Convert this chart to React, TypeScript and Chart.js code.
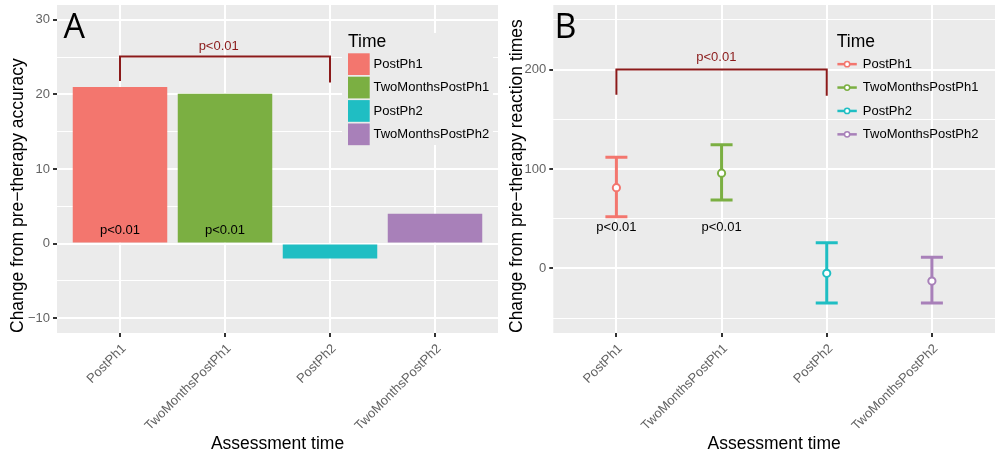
import React, { useEffect, useRef } from "react";
import { Chart, registerables } from "chart.js";

Chart.register(...registerables);

const FONT = "'Liberation Sans', Arial, Helvetica, sans-serif";
const LETTER_FONT = "'Open Sans', 'DejaVu Sans', sans-serif";

// ---------- shared ----------
const categories = ["PostPh1", "TwoMonthsPostPh1", "PostPh2", "TwoMonthsPostPh2"];
const timeColors = ["#F3766E", "#7BAF42", "#1FBEC3", "#A880B9"];
const pLabel = "p<0.01";
const legendTitle = "Time";
const xTitle = "Assessment time";

// ---------- panel A : accuracy ----------
const accuracyChange = [21.0, 20.1, -2.0, 4.0];
const accMajorTicks = [-10, 0, 10, 20, 30];
const accMinorTicks = [-5, 5, 15, 25];
const accLimits = [-12, 32];
const accBracketX = [1, 1, 3, 3];
const accBracketY = [21.8, 25.1, 25.1, 21.6];
const accBracketLabelPos = [1.94, 26.4];
const accBarLabelX = [1, 2];
const accBarLabelY = [1.8, 1.8];
const accYTitle = "Change from pre\u2212therapy accuracy";

// ---------- panel B : reaction times ----------
const rtMean = [81.2, 95.8, -5.0, -12.8];
const rtLower = [52.0, 68.9, -34.7, -34.7];
const rtUpper = [111.9, 124.3, 25.8, 11.1];
const rtMajorTicks = [0, 100, 200];
const rtMinorTicks = [-50, 50, 150, 250];
const rtLimits = [-65, 265];
const rtBracketX = [1, 1, 3, 3];
const rtBracketY = [174.6, 200, 200, 173.6];
const rtBracketLabelPos = [1.95, 212.3];
const rtPointLabelX = [1, 2];
const rtPointLabelY = [41.4, 41.4];
const rtYTitle = "Change from pre\u2212therapy reaction times";

const BRACKET = "#8B1A1A";
const PANEL = "#EBEBEB";
const TICK_TEXT = "#636363";
const TICK_MARK = "#333333";

const fmt = (v: number) => (v < 0 ? "\u2212" + Math.abs(v) : String(v));

function makeScales(cfg: {
  limits: number[];
  major: number[];
  minor: number[];
  yTitle: string;
  yWidth: number;
  yTitlePad: number;
}) {
  const all = [...cfg.major, ...cfg.minor].sort((a, b) => a - b);
  const isMajor = (v: number) => cfg.major.includes(v);
  return {
    x: {
      type: "linear",
      min: 0.4,
      max: 4.6,
      offset: false,
      afterBuildTicks: (s: any) => {
        s.ticks = categories.map((_, i) => ({ value: i + 1 }));
      },
      afterFit: (s: any) => {
        s.height = 124;
        s.paddingLeft = 0;
        s.paddingRight = 0;
      },
      ticks: {
        autoSkip: false,
        minRotation: 45,
        maxRotation: 45,
        color: TICK_TEXT,
        font: { size: 13, family: FONT },
        padding: 4,
        labelOffset: 4,
        callback: (v: any) => categories[Math.round(Number(v)) - 1] ?? "",
      },
      grid: {
        offset: false,
        color: "#FFFFFF",
        lineWidth: 2,
        tickColor: TICK_MARK,
        tickLength: 4,
      },
      border: { display: false },
      title: {
        display: true,
        text: xTitle,
        color: "#000000",
        font: { size: 17.5, family: FONT },
        padding: { top: 0, bottom: 2.5 },
      },
    },
    y: {
      type: "linear",
      min: cfg.limits[0],
      max: cfg.limits[1],
      afterBuildTicks: (s: any) => {
        s.ticks = all.map((v) => ({ value: v }));
      },
      afterFit: (s: any) => {
        s.width = cfg.yWidth;
        s.paddingTop = 0;
        s.paddingBottom = 0;
      },
      ticks: {
        autoSkip: false,
        color: TICK_TEXT,
        font: { size: 13, family: FONT },
        padding: 3,
        callback: (v: any) => (isMajor(Number(v)) ? fmt(Number(v)) : ""),
      },
      grid: {
        color: "#FFFFFF",
        lineWidth: (ctx: any) => (ctx.tick && isMajor(ctx.tick.value) ? 2 : 1),
        tickColor: (ctx: any) =>
          ctx.tick && isMajor(ctx.tick.value) ? TICK_MARK : "rgba(0,0,0,0)",
        tickLength: 4,
      },
      border: { display: false },
      title: {
        display: true,
        text: cfg.yTitle,
        align: "start",
        color: "#000000",
        font: { size: 17.5, family: FONT },
        padding: { top: cfg.yTitlePad, bottom: 0 },
      },
    },
  };
}

const panelBg = {
  id: "panelBg",
  beforeDraw(chart: any) {
    const { ctx, chartArea: a } = chart;
    ctx.save();
    ctx.fillStyle = PANEL;
    ctx.fillRect(a.left, a.top, a.right - a.left, a.bottom - a.top);
    ctx.restore();
  },
};

function annotations(labelX: number[], labelY: number[], bracketPos: number[]) {
  return {
    id: "pAnnotations",
    afterDatasetsDraw(chart: any) {
      const { ctx } = chart;
      const xs = chart.scales.x;
      const ys = chart.scales.y;
      ctx.save();
      ctx.font = `13px ${FONT}`;
      ctx.textAlign = "center";
      ctx.textBaseline = "middle";
      ctx.fillStyle = "#000000";
      labelX.forEach((x, i) => {
        ctx.fillText(pLabel, xs.getPixelForValue(x), ys.getPixelForValue(labelY[i]));
      });
      ctx.fillStyle = BRACKET;
      ctx.fillText(pLabel, xs.getPixelForValue(bracketPos[0]), ys.getPixelForValue(bracketPos[1]));
      ctx.restore();
    },
  };
}

function legendPlugin(kind: "fill" | "line", left: number, letter: string, letterX: number) {
  return {
    id: "customLegend",
    afterDraw(chart: any) {
      const { ctx } = chart;
      ctx.save();
      const top = 53.3;
      const pitch = 23.4;
      const key = 21.7;
      if (kind === "fill") {
        ctx.fillStyle = PANEL;
        ctx.fillRect(left - 6, 33, 151, 112);
      }
      ctx.fillStyle = "#000000";
      ctx.font = `17.5px ${FONT}`;
      ctx.textAlign = "left";
      ctx.textBaseline = "alphabetic";
      ctx.fillText(legendTitle, left, 47);
      ctx.font = `13px ${FONT}`;
      ctx.textBaseline = "middle";
      categories.forEach((c, i) => {
        const y0 = top + i * pitch;
        const cy = y0 + key / 2;
        if (kind === "fill") {
          ctx.fillStyle = timeColors[i];
          ctx.fillRect(left, y0, key, key);
        } else {
          ctx.strokeStyle = timeColors[i];
          ctx.lineWidth = 2.5;
          ctx.beginPath();
          ctx.moveTo(left + 0.6, cy);
          ctx.lineTo(left + 20, cy);
          ctx.stroke();
          ctx.fillStyle = "#FFFFFF";
          ctx.lineWidth = 1.5;
          ctx.beginPath();
          ctx.arc(left + 10.3, cy, 2.6, 0, Math.PI * 2);
          ctx.fill();
          ctx.stroke();
        }
        ctx.fillStyle = "#000000";
        ctx.fillText(c, left + (kind === "fill" ? 25.5 : 26), cy);
      });
      ctx.font = `34px ${LETTER_FONT}`;
      ctx.textBaseline = "alphabetic";
      ctx.fillText(letter, letterX, 37.5);
      ctx.restore();
    },
  };
}

function baseOptions(rightPad: number, scales: any) {
  return {
    responsive: false,
    animation: false,
    events: [],
    layout: { autoPadding: false, padding: { top: 5, right: rightPad, left: 0, bottom: 0 } },
    plugins: { legend: { display: false }, tooltip: { enabled: false } },
    scales,
  };
}

function buildAccuracy(): any {
  return {
    type: "bar",
    data: {
      datasets: [
        {
          type: "line",
          data: accBracketX.map((x, i) => ({ x, y: accBracketY[i] })),
          borderColor: BRACKET,
          borderWidth: 2,
          pointRadius: 0,
          fill: false,
          tension: 0,
          order: 0,
        },
        {
          type: "bar",
          data: accuracyChange.map((y, i) => ({ x: i + 1, y })),
          backgroundColor: timeColors,
          borderWidth: 0,
          categoryPercentage: 1,
          barPercentage: 0.9,
          grouped: false,
          order: 1,
        },
      ],
    },
    options: baseOptions(
      2,
      makeScales({
        limits: accLimits,
        major: accMajorTicks,
        minor: accMinorTicks,
        yTitle: accYTitle,
        yWidth: 57,
        yTitlePad: 7.3,
      })
    ),
    plugins: [
      panelBg,
      annotations(accBarLabelX, accBarLabelY, accBracketLabelPos),
      legendPlugin("fill", 348, "A", 63.5),
    ],
  };
}

function buildReaction(): any {
  const bars = categories.map((_, i) => ({
    type: "line",
    data: [
      { x: i + 1, y: rtLower[i] },
      { x: i + 1, y: rtUpper[i] },
    ],
    borderColor: timeColors[i],
    borderWidth: 3,
    pointStyle: "line",
    pointRadius: 11,
    pointBorderWidth: 3,
    pointBorderColor: timeColors[i],
    fill: false,
    order: 2,
  }));
  return {
    type: "line",
    data: {
      datasets: [
        {
          type: "scatter",
          data: rtMean.map((y, i) => ({ x: i + 1, y })),
          pointRadius: 3.6,
          pointBorderWidth: 2,
          pointBackgroundColor: "#FFFFFF",
          pointBorderColor: timeColors,
          showLine: false,
          order: 0,
        },
        {
          type: "line",
          data: rtBracketX.map((x, i) => ({ x, y: rtBracketY[i] })),
          borderColor: BRACKET,
          borderWidth: 2,
          pointRadius: 0,
          fill: false,
          order: 1,
        },
        ...bars,
      ],
    },
    options: baseOptions(
      0,
      makeScales({
        limits: rtLimits,
        major: rtMajorTicks,
        minor: rtMinorTicks,
        yTitle: rtYTitle,
        yWidth: 53.3,
        yTitlePad: 6.3,
      })
    ),
    plugins: [
      panelBg,
      annotations(rtPointLabelX, rtPointLabelY, rtBracketLabelPos),
      legendPlugin("line", 336.8, "B", 54.5),
    ],
  };
}

function Panel({ width, build }: { width: number; build: () => any }) {
  const ref = useRef<HTMLCanvasElement | null>(null);
  useEffect(() => {
    if (!ref.current) return;
    const chart = new Chart(ref.current, build());
    return () => chart.destroy();
  }, [build]);
  return (
    <canvas
      ref={ref}
      width={width}
      height={457}
      style={{ display: "block", width, height: 457 }}
    />
  );
}

export default function App() {
  return (
    <div
      style={{
        position: "absolute",
        left: 0,
        top: 0,
        width: 995,
        height: 457,
        display: "flex",
        background: "#FFFFFF",
      }}
    >
      <Panel width={500} build={buildAccuracy} />
      <Panel width={495} build={buildReaction} />
    </div>
  );
}
